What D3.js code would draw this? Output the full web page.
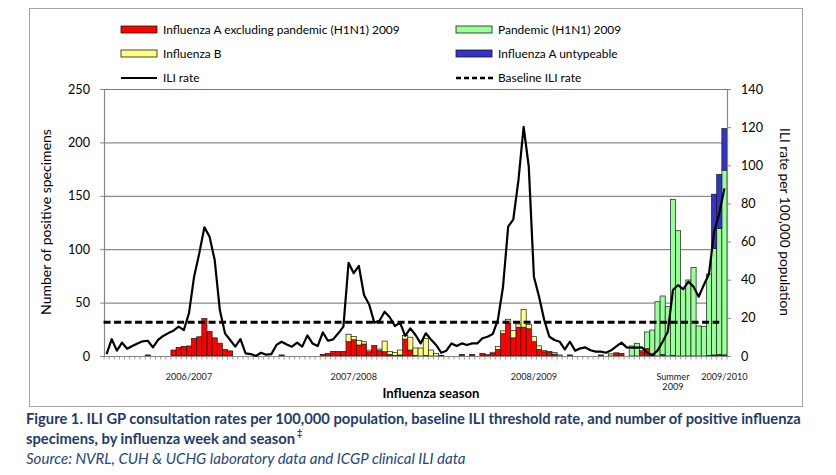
<!DOCTYPE html>
<html>
<head>
<meta charset="utf-8">
<script src="https://cdn.jsdelivr.net/npm/d3@7"></script>
<style>
  body { margin: 0; background: #fff; }
  svg { font-family: Lato, "Open Sans", sans-serif; }
</style>
</head>
<body>
<svg id="chart" width="836" height="475"></svg>
<script>
// seasons shown on the category axis (weeks 40-20, summer weeks 21-39)
const seasons = ['2006/2007', '2007/2008', '2008/2009', 'Summer 2009', '2009/2010'];
const seasonFirstWeek = [40, 40, 40, 21, 40];
const seasonLength = [33, 33, 33, 19, 3];
// week under which each season label is printed
const seasonLabelWeek = [4, 3, 5, 32, 42];

// ILI rate per 100,000 (right axis)
const iliRate = [
  1, 8.8, 2.8, 7, 3.8, 5.2, 6.5, 7.7, 8, 4.5, 8.4, 10.5, 12, 13.3, 15.4, 13.6, 22.4,
  41.6, 53.8, 67.5, 62.6, 50.3, 24.1, 11.9, 8.4, 4.9, 8.8, 1.4, 1, 0, 1.7, 0.7, 1,
  5.8, 7.5, 6, 4.9, 7, 4.9, 10.8, 6.6, 5.2, 12.4, 8, 8.7, 11.9, 15.4, 48.9, 43.4, 47.2,
  32, 27, 17.5, 18.5, 23.2, 20.3, 15.7, 17.5, 10.5, 14.5, 11, 6.6, 11.9, 8.7, 5.8, 1.7,
  2.8, 6.6, 5.2, 6.6, 5.8, 6.6, 6.6, 9.3, 10.1, 11.5, 18.9, 36.3, 67.8, 71.7, 92.3, 120.2,
  99.3, 41.6, 31.1, 18.9, 10.1, 8.4, 7.5, 3.5, 7.5, 2.8, 4, 4.5, 3, 2.3, 2.3, 1.7, 3,
  5, 7, 4.5, 4.4, 4.4, 4.5, 1.7, 0.5, 2.8, 7.5, 12.7, 34.6, 37.2, 35, 39, 36.3, 31.1, 37.2, 43,
  65.2, 74.8, 87.9
];
const baselineIli = 17.7;
const baselineLastWeek = 119;

// positive specimens (left axis)
const fluA = [
  0, 0, 0, 0, 0, 0, 0, 0, 1, 0, 0, 0, 0, 5.6, 8, 9, 9.4, 16.5, 18, 35, 23, 17, 12, 6.2, 4.8,
  0, 0, 0, 0, 0, 0, 0, 0,
  0, 1, 0, 0, 0, 0, 0, 0, 0, 1.6, 2.5, 4.3, 4.3, 4.3, 13.4, 15.2, 10.3, 11.2, 4, 9.8, 5, 4,
  1.5, 0.5, 1, 15.8, 5.6, 0.5, 0, 0.5, 0, 0, 0,
  0, 0, 0, 1.5, 0, 1.5, 0, 2.5, 0.5, 2.5, 6, 21, 30.6, 17, 27, 27, 25.5, 13.4, 6.2, 4, 3.5,
  1.8, 0, 0, 1, 0, 0, 0, 0, 0, 1, 0, 0,
  3, 2.5, 0, 0, 0, 4, 7, 2, 0, 1.5, 0, 0.5, 0, 0, 0, 0, 0, 0, 0.5,
  1, 1.5, 1
];
const fluB = [
  0, 0, 0, 0, 0, 0, 0, 0, 0, 0, 0, 0, 0, 0, 0, 0, 0, 0, 0, 0, 0, 0, 0, 0, 0,
  0, 0, 0, 0, 0, 0, 0, 0,
  0, 0, 0, 0, 0, 0, 0, 0, 0, 0, 0, 0, 0, 0, 7, 3.2, 4.3, 2.2, 1.5, 0, 1.5, 10,
  2.8, 2.8, 4.6, 3.5, 12, 7, 7.5, 16, 5.6, 2.5, 0.6,
  0, 0, 0, 0, 0, 0, 0, 0, 1, 1, 3, 2.5, 3.8, 6.7, 3, 16.7, 4, 4.7, 3.3, 1, 0.7,
  1.6, 1, 0, 0, 0, 0, 0, 0, 0, 0, 0, 0,
  0, 0, 0, 0, 0, 0, 0, 0, 0, 0, 0, 0, 0, 0, 0, 0, 0, 0, 0,
  0, 0, 0
];
const pandemic = [
  0, 0, 0, 0, 0, 0, 0, 0, 0, 0, 0, 0, 0, 0, 0, 0, 0, 0, 0, 0, 0, 0, 0, 0, 0,
  0, 0, 0, 0, 0, 0, 0, 0,
  0, 0, 0, 0, 0, 0, 0, 0, 0, 0, 0, 0, 0, 0, 0, 0, 0, 0, 0, 0, 0, 0,
  0, 0, 0, 0, 0, 0, 0, 0, 0, 0, 0,
  0, 0, 0, 0, 0, 0, 0, 0, 0, 0, 0, 0, 0, 0, 0, 0, 0, 0, 0, 0, 0,
  0, 0, 0, 0, 0, 0, 0, 0, 0, 0, 0, 2,
  0, 0, 0, 9.4, 11.9, 1, 15.5, 22.3, 50.8, 54.7, 46.2, 146.2, 117.3, 63.4, 71.2, 83, 28.1, 27.5, 76.3,
  99.8, 118, 173
];
const untypeable = [
  0, 0, 0, 0, 0, 0, 0, 0, 0, 0, 0, 0, 0, 0, 0, 0, 0, 0, 0, 0, 0, 0, 0, 0, 0,
  0, 0, 0, 0, 0, 0, 0, 0,
  0, 0, 0, 0, 0, 0, 0, 0, 0, 0, 0, 0, 0, 0, 0, 0, 0, 0, 0, 0, 0, 0,
  0, 0, 0, 0, 0, 0, 0, 0, 0, 0, 0,
  0, 0, 0, 0, 0, 0, 0, 0, 0, 0, 0, 0, 0, 0, 0, 0, 0, 0, 0, 0, 0,
  0, 0, 0, 0, 0, 0, 0, 0, 0, 0, 0, 0,
  0, 0, 0, 0, 0, 0, 0, 0, 0, 0, 0, 0, 0, 0, 0, 0, 0, 0, 0,
  50.7, 50.6, 39
];

const leftTicks = [0, 50, 100, 150, 200, 250];
const rightTicks = [0, 20, 40, 60, 80, 100, 120, 140];

const series = [
  { key: 'fluA', name: 'Influenza A excluding pandemic (H1N1) 2009', color: '#ff0000' },
  { key: 'fluB', name: 'Influenza B', color: '#ffff80' },
  { key: 'pandemic', name: 'Pandemic (H1N1) 2009', color: '#99ff99' },
  { key: 'untypeable', name: 'Influenza A untypeable', color: '#3333cc' }
];

// build week categories
const weeks = [];
seasons.forEach((s, k) => {
  for (let j = 0; j < seasonLength[k]; j++) {
    weeks.push({ season: s, week: (seasonFirstWeek[k] - 1 + j) % 52 + 1 });
  }
});
const rows = weeks.map((w, i) => ({
  i, fluA: fluA[i], fluB: fluB[i], pandemic: pandemic[i], untypeable: untypeable[i]
}));

const svg = d3.select('#chart');
const plot = { left: 104, right: 727, top: 89, bottom: 356 };
const axisColor = '#868686';

// helper: scale a text's font size so it spans a given width
function fit(sel, target) {
  const fs = parseFloat(sel.attr('font-size'));
  const w = sel.node().getComputedTextLength();
  const size = +(fs * target / w).toFixed(2);
  sel.attr('font-size', size);
  return size;
}

svg.append('rect')
  .attr('x', 29.5).attr('y', 8.5).attr('width', 773).attr('height', 398)
  .attr('fill', '#fff').attr('stroke', '#a6a6a6');

const x = d3.scaleBand().domain(d3.range(weeks.length)).range([plot.left, plot.right]).padding(0);
const yL = d3.scaleLinear().domain([0, 250]).range([plot.bottom, plot.top]);
const yR = d3.scaleLinear().domain([0, 140]).range([plot.bottom, plot.top]);

// gridlines
svg.append('g').selectAll('line')
  .data(leftTicks.slice(1))
  .enter().append('line')
  .attr('x1', plot.left).attr('x2', plot.right)
  .attr('y1', d => yL(d) + 0.5).attr('y2', d => yL(d) + 0.5)
  .attr('stroke', d => d === 250 ? '#7a7a7a' : '#8c8c8c')
  .attr('stroke-width', 1.2);

// stacked bars
const stacked = d3.stack().keys(series.map(s => s.key))(rows);
const bars = svg.append('g');
stacked.forEach((layer, k) => {
  bars.append('g')
    .attr('fill', series[k].color)
    .attr('stroke', '#1a1a1a')
    .attr('stroke-width', 0.7)
    .selectAll('rect')
    .data(layer.filter(d => d[1] - d[0] > 0))
    .enter().append('rect')
    .attr('x', d => x(d.data.i))
    .attr('y', d => yL(d[1]))
    .attr('width', x.bandwidth())
    .attr('height', d => yL(d[0]) - yL(d[1]));
});

// axes
const gL = svg.append('g')
  .attr('transform', `translate(${plot.left},0)`)
  .call(d3.axisLeft(yL).tickValues(leftTicks).tickSize(4).tickPadding(10));
const gR = svg.append('g')
  .attr('transform', `translate(${plot.right},0)`)
  .call(d3.axisRight(yR).tickValues(rightTicks).tickSize(4).tickPadding(10));
[gL, gR].forEach(g => {
  g.select('.domain').attr('stroke', axisColor).attr('stroke-width', 1.2);
  g.selectAll('.tick line').attr('stroke', axisColor);
  g.selectAll('text').attr('font-size', 13).attr('font-family', 'Lato').attr('fill', '#000');
});
const tickSize = fit(gL.select('.tick:last-of-type text'), 22);
svg.selectAll('.tick text').attr('font-size', tickSize);

// category axis
const gB = svg.append('g');
gB.append('line')
  .attr('x1', plot.left).attr('x2', plot.right)
  .attr('y1', plot.bottom + 0.5).attr('y2', plot.bottom + 0.5)
  .attr('stroke', axisColor).attr('stroke-width', 1.2);
gB.selectAll('.minor')
  .data(d3.range(weeks.length + 1))
  .enter().append('line')
  .attr('x1', i => i < weeks.length ? x(i) : plot.right)
  .attr('x2', i => i < weeks.length ? x(i) : plot.right)
  .attr('y1', plot.bottom).attr('y2', plot.bottom + 3.5)
  .attr('stroke', axisColor).attr('stroke-width', 0.8);

const labelIdx = seasons.map((s, k) =>
  weeks.findIndex(w => w.season === s && w.week === seasonLabelWeek[k]));
const seasonText = gB.selectAll('.season')
  .data(labelIdx)
  .enter().append('text')
  .attr('class', 'season')
  .attr('x', i => x(i) + x.bandwidth() / 2)
  .attr('y', 380)
  .attr('text-anchor', 'middle')
  .attr('font-size', 11)
  .attr('fill', '#1a1a1a');
seasonText.each(function (i) {
  const parts = weeks[i].season.split(' ');
  const t = d3.select(this);
  parts.forEach((p, j) => t.append('tspan')
    .attr('x', x(i) + x.bandwidth() / 2).attr('dy', j ? 13 : 0).text(p));
});
const seasonSize = fit(gB.select('.season'), 46.5);
seasonText.attr('font-size', seasonSize);
seasonText.selectAll('tspan').filter((d, j) => j > 0).attr('dy', seasonSize * 1.15);

// ILI line
const lineX = i => x(i) + x.bandwidth() / 2;
svg.append('path')
  .datum(iliRate)
  .attr('fill', 'none')
  .attr('stroke', '#000')
  .attr('stroke-width', 2.2)
  .attr('stroke-linejoin', 'round')
  .attr('d', d3.line().x((d, i) => lineX(i)).y(d => yR(d)));

// baseline
svg.append('line')
  .attr('x1', lineX(0) - 3).attr('x2', lineX(baselineLastWeek))
  .attr('y1', yR(baselineIli)).attr('y2', yR(baselineIli))
  .attr('stroke', '#000').attr('stroke-width', 3)
  .attr('stroke-dasharray', '7,3.5');

// axis titles
const yTitle = svg.append('text')
  .attr('transform', 'translate(51,222) rotate(-90)')
  .attr('text-anchor', 'middle')
  .attr('font-size', 13)
  .text('Number of positive specimens');
fit(yTitle, 186);
const y2Title = svg.append('text')
  .attr('transform', 'translate(780,222) rotate(90)')
  .attr('text-anchor', 'middle')
  .attr('font-size', 13)
  .text('ILI rate per 100,000 population');
fit(y2Title, 188);
const xTitle = svg.append('text')
  .attr('x', 431).attr('y', 398)
  .attr('text-anchor', 'middle')
  .attr('font-size', 14).attr('font-weight', 'bold')
  .text('Influenza season');
fit(xTitle, 97);

// legend
const legend = [
  { label: series[0].name, color: series[0].color, type: 'bar', x: 121, y: 29.5 },
  { label: series[1].name, color: series[1].color, type: 'bar', x: 121, y: 53.5 },
  { label: 'ILI rate', type: 'line', x: 121, y: 77.5 },
  { label: series[2].name, color: series[2].color, type: 'bar', x: 456, y: 29.5 },
  { label: series[3].name, color: series[3].color, type: 'bar', x: 456, y: 53.5 },
  { label: 'Baseline ILI rate', type: 'dash', x: 456, y: 77.5 }
];
const lg = svg.append('g').selectAll('g').data(legend).enter().append('g')
  .attr('transform', d => `translate(${d.x},${d.y})`);
lg.filter(d => d.type === 'bar').append('rect')
  .attr('x', 0).attr('y', -3.5).attr('width', 36).attr('height', 7)
  .attr('fill', d => d.color).attr('stroke', '#1a1a1a').attr('stroke-width', 0.8);
lg.filter(d => d.type === 'line').append('line')
  .attr('x1', 0).attr('x2', 36).attr('y1', 0.5).attr('y2', 0.5)
  .attr('stroke', '#000').attr('stroke-width', 2.2);
lg.filter(d => d.type === 'dash').append('line')
  .attr('x1', 0).attr('x2', 37).attr('y1', 0.5).attr('y2', 0.5)
  .attr('stroke', '#000').attr('stroke-width', 2.5).attr('stroke-dasharray', '5,3');
const lgText = lg.append('text')
  .attr('x', 42).attr('y', 0).attr('dy', '0.35em')
  .attr('font-size', 13)
  .text(d => d.label);
const lgSize = fit(d3.select(lgText.nodes()[0]), 237);
lgText.attr('font-size', lgSize);

// caption
const navy = '#1f3b6d';
const cap1 = svg.append('text')
  .attr('x', 26).attr('y', 424)
  .attr('font-size', 15).attr('font-weight', 'bold').attr('fill', navy)
  .text('Figure 1. ILI GP consultation rates per 100,000 population, baseline ILI threshold rate, and number of positive influenza');
const capSize = fit(cap1, 775);
const cap2 = svg.append('text')
  .attr('x', 26).attr('y', 444)
  .attr('font-size', capSize).attr('font-weight', 'bold').attr('fill', navy);
cap2.append('tspan').text('specimens, by influenza week and season');
cap2.append('tspan').attr('dx', 2).attr('dy', -8).attr('font-size', capSize * 0.6).text('‡');
const cap3 = svg.append('text')
  .attr('x', 26).attr('y', 464)
  .attr('font-size', 15).attr('font-style', 'italic').attr('fill', '#23477e')
  .text('Source: NVRL, CUH & UCHG laboratory data and ICGP clinical ILI data');
fit(cap3, 440);
</script>
</body>
</html>
